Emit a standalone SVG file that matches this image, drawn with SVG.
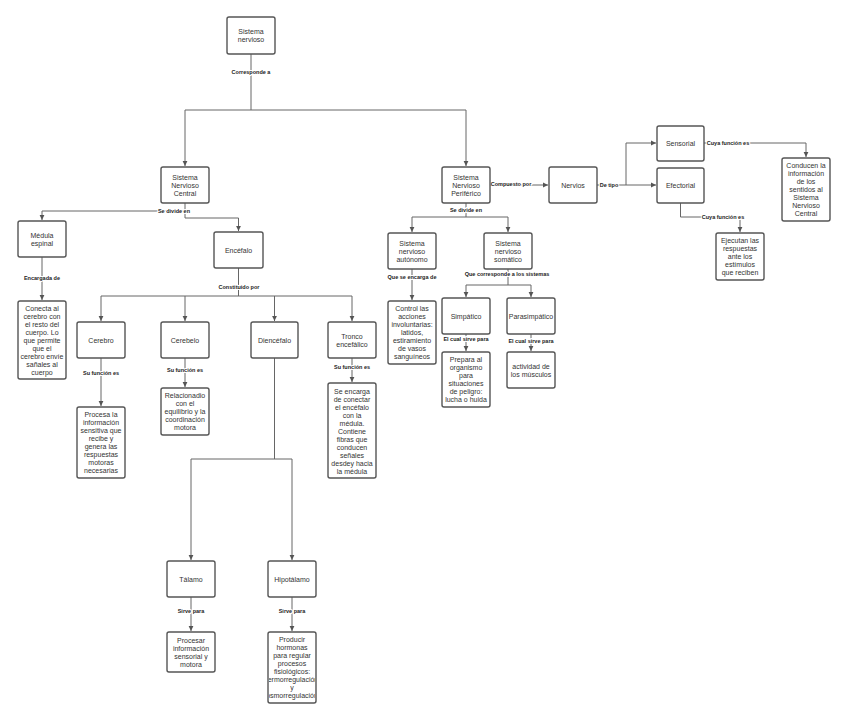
<svg xmlns="http://www.w3.org/2000/svg" width="848" height="722" viewBox="0 0 848 722">
<style>
.b{fill:#fff;stroke:#555;stroke-width:1.4}
.t{font-family:"Liberation Sans",Arial,sans-serif;font-size:7px;fill:#333;text-anchor:middle}
.c{fill:none;stroke:#666;stroke-width:1}
.l{font-family:"Liberation Sans",Arial,sans-serif;font-size:5.5px;font-weight:bold;fill:#222;text-anchor:middle;stroke:#fff;stroke-width:2;paint-order:stroke;dominant-baseline:central}
</style>
<defs>
<marker id="a" markerUnits="userSpaceOnUse" markerWidth="6" markerHeight="6" refX="5" refY="3" orient="auto"><path d="M0,0.6 L5,3 L0,5.4 Z" fill="#555"/></marker>
<clipPath id="clipProducir"><rect x="269" y="633" width="46" height="69"/></clipPath>
</defs>
<rect width="848" height="722" fill="#fff"/>
<g id="connectors">
<path class="c" d="M251,54 V110 M185,110 H466"/>
<path class="c" d="M185,110 V166" marker-end="url(#a)"/>
<path class="c" d="M466,110 V166" marker-end="url(#a)"/>
<text class="l" x="251" y="72">Corresponde a</text>
<path class="c" d="M185,203 V211 H42 V220" marker-end="url(#a)"/>
<path class="c" d="M185,211 V218 H238.5 V231" marker-end="url(#a)"/>
<text class="l" x="174" y="211">Se divide en</text>
<path class="c" d="M466,203 V217 H412 V232" marker-end="url(#a)"/>
<path class="c" d="M466,217 H508 V232" marker-end="url(#a)"/>
<text class="l" x="466" y="210">Se divide en</text>
<path class="c" d="M490,185 H548" marker-end="url(#a)"/>
<text class="l" x="511" y="184">Compuesto por</text>
<path class="c" d="M597,185 H656" marker-end="url(#a)"/>
<path class="c" d="M626,185 V143 H656" marker-end="url(#a)"/>
<text class="l" x="609" y="185">De tipo</text>
<path class="c" d="M704,143 H806 V157" marker-end="url(#a)"/>
<text class="l" x="728" y="143">Cuya función es</text>
<path class="c" d="M680.5,203 V217 H740 V232" marker-end="url(#a)"/>
<text class="l" x="723" y="217">Cuya función es</text>
<path class="c" d="M42,257 V300" marker-end="url(#a)"/>
<text class="l" x="42" y="278">Encargada de</text>
<path class="c" d="M238.5,268 V296 M101,296 H352"/>
<path class="c" d="M101,296 V321" marker-end="url(#a)"/>
<path class="c" d="M185,296 V321" marker-end="url(#a)"/>
<path class="c" d="M274.5,296 V321" marker-end="url(#a)"/>
<path class="c" d="M352,296 V321" marker-end="url(#a)"/>
<text class="l" x="239" y="287">Constituido por</text>
<path class="c" d="M101,358 V406" marker-end="url(#a)"/>
<text class="l" x="101" y="373">Su función es</text>
<path class="c" d="M185,358 V387" marker-end="url(#a)"/>
<text class="l" x="185" y="370">Su función es</text>
<path class="c" d="M352,358 V382" marker-end="url(#a)"/>
<text class="l" x="352" y="367">Su función es</text>
<path class="c" d="M274.5,358 V459 M191,459 H292"/>
<path class="c" d="M191,459 V560" marker-end="url(#a)"/>
<path class="c" d="M292,459 V560" marker-end="url(#a)"/>
<path class="c" d="M191,597 V631" marker-end="url(#a)"/>
<text class="l" x="191" y="611">Sirve para</text>
<path class="c" d="M292,597 V631" marker-end="url(#a)"/>
<text class="l" x="292" y="611">Sirve para</text>
<path class="c" d="M412,269 V300" marker-end="url(#a)"/>
<text class="l" x="412" y="277">Que se encarga de</text>
<path class="c" d="M508,269 V285 M466,285 H531"/>
<path class="c" d="M466,285 V297" marker-end="url(#a)"/>
<path class="c" d="M531,285 V297" marker-end="url(#a)"/>
<text class="l" x="507" y="274">Que corresponde a los sistemas</text>
<path class="c" d="M466,334 V351" marker-end="url(#a)"/>
<text class="l" x="466" y="339">El cual sirve para</text>
<path class="c" d="M531,334 V351" marker-end="url(#a)"/>
<text class="l" x="531" y="341">El cual sirve para</text>
</g>
<g id="sistema-nervioso"><rect class="b" x="227" y="17" width="48" height="37" rx="2"/><text class="t" x="251" y="34">Sistema<tspan x="251" dy="8">nervioso</tspan></text></g>
<g id="snc"><rect class="b" x="161" y="167" width="48" height="36" rx="2"/><text class="t" x="185" y="179.5">Sistema<tspan x="185" dy="8">Nervioso</tspan><tspan x="185" dy="8">Central</tspan></text></g>
<g id="snp"><rect class="b" x="442" y="167" width="48" height="36" rx="2"/><text class="t" x="466" y="179.5">Sistema<tspan x="466" dy="8">Nervioso</tspan><tspan x="466" dy="8">Periférico</tspan></text></g>
<g id="nervios"><rect class="b" x="549" y="167" width="48" height="36" rx="2"/><text class="t" x="573" y="187.5">Nervios</text></g>
<g id="sensorial"><rect class="b" x="657" y="126" width="47" height="35" rx="2"/><text class="t" x="680.5" y="146">Sensorial</text></g>
<g id="efectorial"><rect class="b" x="657" y="168" width="47" height="35" rx="2"/><text class="t" x="680.5" y="188">Efectorial</text></g>
<g id="conducen"><rect class="b" x="782" y="158" width="48" height="63" rx="2"/><text class="t" x="806" y="168">Conducen la<tspan x="806" dy="8">información</tspan><tspan x="806" dy="8">de los</tspan><tspan x="806" dy="8">sentidos al</tspan><tspan x="806" dy="8">Sistema</tspan><tspan x="806" dy="8">Nervioso</tspan><tspan x="806" dy="8">Central</tspan></text></g>
<g id="ejecutan"><rect class="b" x="716" y="233" width="48" height="47" rx="2"/><text class="t" x="740" y="243">Ejecutan las<tspan x="740" dy="8">respuestas</tspan><tspan x="740" dy="8">ante los</tspan><tspan x="740" dy="8">estímulos</tspan><tspan x="740" dy="8">que reciben</tspan></text></g>
<g id="medula"><rect class="b" x="18" y="221" width="48" height="36" rx="2"/><text class="t" x="42" y="237.5">Médula<tspan x="42" dy="8">espinal</tspan></text></g>
<g id="encefalo"><rect class="b" x="214" y="232" width="49" height="36" rx="2"/><text class="t" x="238.5" y="252.5">Encéfalo</text></g>
<g id="conecta"><rect class="b" x="18" y="301" width="48" height="78" rx="2"/><text class="t" x="42" y="310.5">Conecta al<tspan x="42" dy="8">cerebro con</tspan><tspan x="42" dy="8">el resto del</tspan><tspan x="42" dy="8">cuerpo. Lo</tspan><tspan x="42" dy="8">que permite</tspan><tspan x="42" dy="8">que el</tspan><tspan x="42" dy="8">cerebro envíe</tspan><tspan x="42" dy="8">sañales al</tspan><tspan x="42" dy="8">cuerpo</tspan></text></g>
<g id="cerebro"><rect class="b" x="77" y="322" width="48" height="36" rx="2"/><text class="t" x="101" y="342.5">Cerebro</text></g>
<g id="cerebelo"><rect class="b" x="161" y="322" width="48" height="36" rx="2"/><text class="t" x="185" y="342.5">Cerebelo</text></g>
<g id="diencefalo"><rect class="b" x="251" y="322" width="47" height="36" rx="2"/><text class="t" x="274.5" y="342.5">Diencéfalo</text></g>
<g id="tronco"><rect class="b" x="328" y="322" width="48" height="36" rx="2"/><text class="t" x="352" y="338.5">Tronco<tspan x="352" dy="8">encefálico</tspan></text></g>
<g id="procesa"><rect class="b" x="77" y="407" width="48" height="71" rx="2"/><text class="t" x="101" y="417">Procesa la<tspan x="101" dy="8">información</tspan><tspan x="101" dy="8">sensitiva que</tspan><tspan x="101" dy="8">recibe y</tspan><tspan x="101" dy="8">genera las</tspan><tspan x="101" dy="8">respuestas</tspan><tspan x="101" dy="8">motoras</tspan><tspan x="101" dy="8">necesarias</tspan></text></g>
<g id="relacionado"><rect class="b" x="161" y="388" width="48" height="47" rx="2"/><text class="t" x="185" y="398">Relacionadio<tspan x="185" dy="8">con el</tspan><tspan x="185" dy="8">equilibrio y la</tspan><tspan x="185" dy="8">coordinación</tspan><tspan x="185" dy="8">motora</tspan></text></g>
<g id="tronco-funcion"><rect class="b" x="328" y="383" width="48" height="95" rx="2"/><text class="t" x="352" y="393.5">Se encarga<tspan x="352" dy="8">de conectar</tspan><tspan x="352" dy="8">el encéfalo</tspan><tspan x="352" dy="8">con la</tspan><tspan x="352" dy="8">médula.</tspan><tspan x="352" dy="8">Contiene</tspan><tspan x="352" dy="8">fibras que</tspan><tspan x="352" dy="8">conducen</tspan><tspan x="352" dy="8">señales</tspan><tspan x="352" dy="8">desdey hacia</tspan><tspan x="352" dy="8">la médula</tspan></text></g>
<g id="talamo"><rect class="b" x="167" y="561" width="48" height="36" rx="2"/><text class="t" x="191" y="581.5">Tálamo</text></g>
<g id="hipotalamo"><rect class="b" x="268" y="561" width="48" height="36" rx="2"/><text class="t" x="292" y="581.5">Hipotálamo</text></g>
<g id="procesar"><rect class="b" x="167" y="632" width="48" height="40" rx="2"/><text class="t" x="191" y="642.5">Procesar<tspan x="191" dy="8">información</tspan><tspan x="191" dy="8">sensorial y</tspan><tspan x="191" dy="8">motora</tspan></text></g>
<g id="producir"><rect class="b" x="268" y="632" width="48" height="71" rx="2"/><text class="t" x="292" y="642" clip-path="url(#clipProducir)">Producir<tspan x="292" dy="8">hormonas</tspan><tspan x="292" dy="8">para regular</tspan><tspan x="292" dy="8">procesos</tspan><tspan x="292" dy="8">fisiológicos:</tspan><tspan x="292" dy="8">termorregulación</tspan><tspan x="292" dy="8">y</tspan><tspan x="292" dy="8">osmorregulación</tspan></text></g>
<g id="autonomo"><rect class="b" x="388" y="233" width="48" height="36" rx="2"/><text class="t" x="412" y="245.5">Sistema<tspan x="412" dy="8">nervioso</tspan><tspan x="412" dy="8">autónomo</tspan></text></g>
<g id="somatico"><rect class="b" x="484" y="233" width="48" height="36" rx="2"/><text class="t" x="508" y="245.5">Sistema<tspan x="508" dy="8">nervioso</tspan><tspan x="508" dy="8">somático</tspan></text></g>
<g id="control"><rect class="b" x="388" y="301" width="48" height="63" rx="2"/><text class="t" x="412" y="311">Control las<tspan x="412" dy="8">acciones</tspan><tspan x="412" dy="8">involuntarias:</tspan><tspan x="412" dy="8">latidos,</tspan><tspan x="412" dy="8">estiramiento</tspan><tspan x="412" dy="8">de vasos</tspan><tspan x="412" dy="8">sanguíneos</tspan></text></g>
<g id="simpatico"><rect class="b" x="442" y="298" width="48" height="36" rx="2"/><text class="t" x="466" y="318.5">Simpático</text></g>
<g id="parasimpatico"><rect class="b" x="507" y="298" width="48" height="36" rx="2"/><text class="t" x="531" y="318.5">Parasimpático</text></g>
<g id="prepara"><rect class="b" x="442" y="352" width="48" height="55" rx="2"/><text class="t" x="466" y="362">Prepara al<tspan x="466" dy="8">organismo</tspan><tspan x="466" dy="8">para</tspan><tspan x="466" dy="8">situaciones</tspan><tspan x="466" dy="8">de peligro:</tspan><tspan x="466" dy="8">lucha o huida</tspan></text></g>
<g id="actividad"><rect class="b" x="507" y="352" width="48" height="36" rx="2"/><text class="t" x="531" y="368.5">actividad de<tspan x="531" dy="8">los músculos</tspan></text></g>
</svg>
